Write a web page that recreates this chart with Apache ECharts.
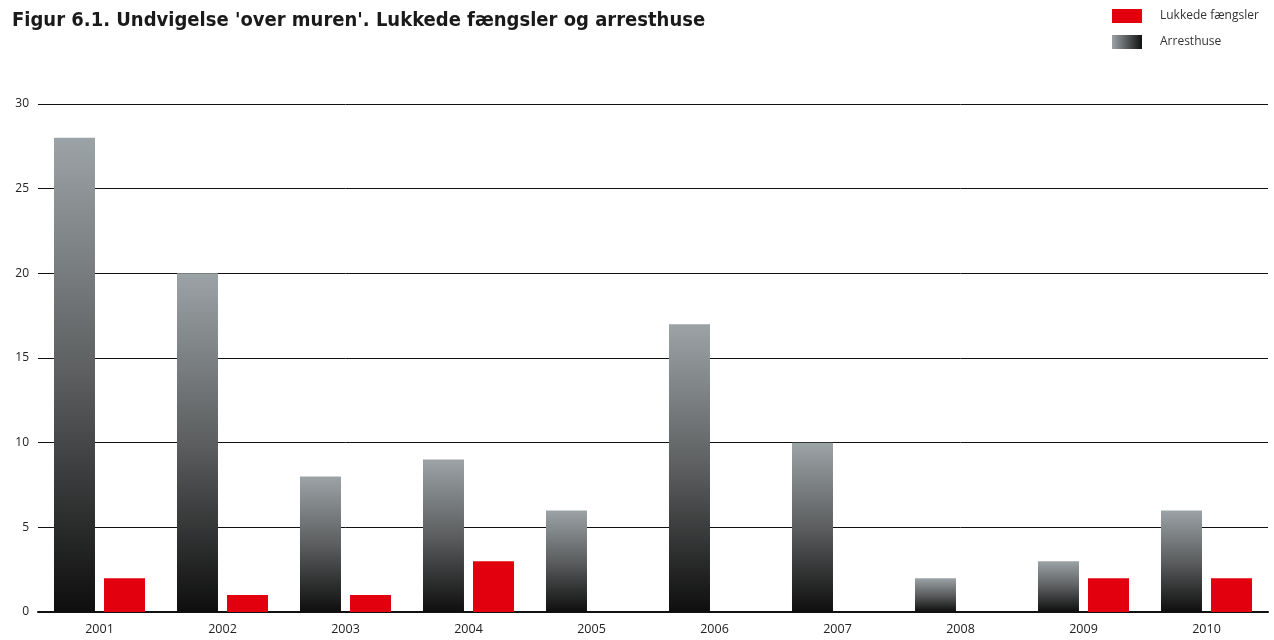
<!DOCTYPE html>
<html>
<head>
<meta charset="utf-8">
<script src="https://cdn.jsdelivr.net/npm/echarts@6/dist/echarts.min.js"></script>
<style>
  html, body { margin: 0; padding: 0; background: #fff; }
  #chart { width: 1274px; height: 640px; }
</style>
</head>
<body>
<div id="chart"></div>
<script>
const years = ['2001', '2002', '2003', '2004', '2005', '2006', '2007', '2008', '2009', '2010'];
const arresthuse = [28, 20, 8, 9, 6, 17, 10, 2, 3, 6];
const lukkede = [2, 1, 1, 3, 0, 0, 0, 0, 2, 2];

const grayBar = new echarts.graphic.LinearGradient(0, 0, 0, 1, [
  { offset: 0, color: '#9ca3a6' },
  { offset: 0.5, color: '#5c5e5f' },
  { offset: 1, color: '#0e0e0e' }
]);
const grayLegend = new echarts.graphic.LinearGradient(0, 0, 1, 0, [
  { offset: 0, color: '#9ca3a6' },
  { offset: 1, color: '#111' }
]);

const chart = echarts.init(document.getElementById('chart'));
chart.setOption({
  animation: false,
  title: {
    text: "Figur 6.1. Undvigelse 'over muren'. Lukkede fængsler og arresthuse",
    left: 7,
    top: 6,
    textStyle: {
      fontFamily: 'DejaVu Sans Condensed',
      fontWeight: 'bold',
      fontSize: 20,
      color: '#1a1a1a'
    }
  },
  legend: {
    orient: 'vertical',
    left: 1112,
    top: 9,
    padding: 0,
    itemWidth: 30,
    itemHeight: 14,
    itemGap: 12,
    icon: 'rect',
    textStyle: { fontFamily: 'Open Sans', fontSize: 12, color: '#333', padding: [0, 0, 0, 13] },
    data: [
      { name: 'Lukkede fængsler', itemStyle: { color: '#e2000f' } },
      { name: 'Arresthuse', itemStyle: { color: grayLegend } }
    ]
  },
  grid: { left: 38, right: 6, top: 104, bottom: 28 },
  xAxis: {
    type: 'category',
    data: years,
    axisLine: { lineStyle: { color: '#111', width: 2 } },
    axisTick: { show: false },
    axisLabel: { color: '#222', fontFamily: 'Open Sans', fontSize: 12.5, margin: 11 }
  },
  yAxis: {
    type: 'value',
    min: 0,
    max: 30,
    interval: 5,
    axisLine: { show: false },
    axisTick: { show: false },
    axisLabel: { color: '#222', fontFamily: 'Open Sans', fontSize: 12, margin: 9 },
    splitLine: { lineStyle: { color: '#111', width: 1 } }
  },
  series: [
    {
      name: 'Arresthuse',
      type: 'bar',
      data: arresthuse,
      barWidth: 41,
      barGap: '22%',
      itemStyle: { color: grayBar }
    },
    {
      name: 'Lukkede fængsler',
      type: 'bar',
      data: lukkede,
      barWidth: 41,
      itemStyle: { color: '#e2000f' }
    }
  ]
});
</script>
</body>
</html>
